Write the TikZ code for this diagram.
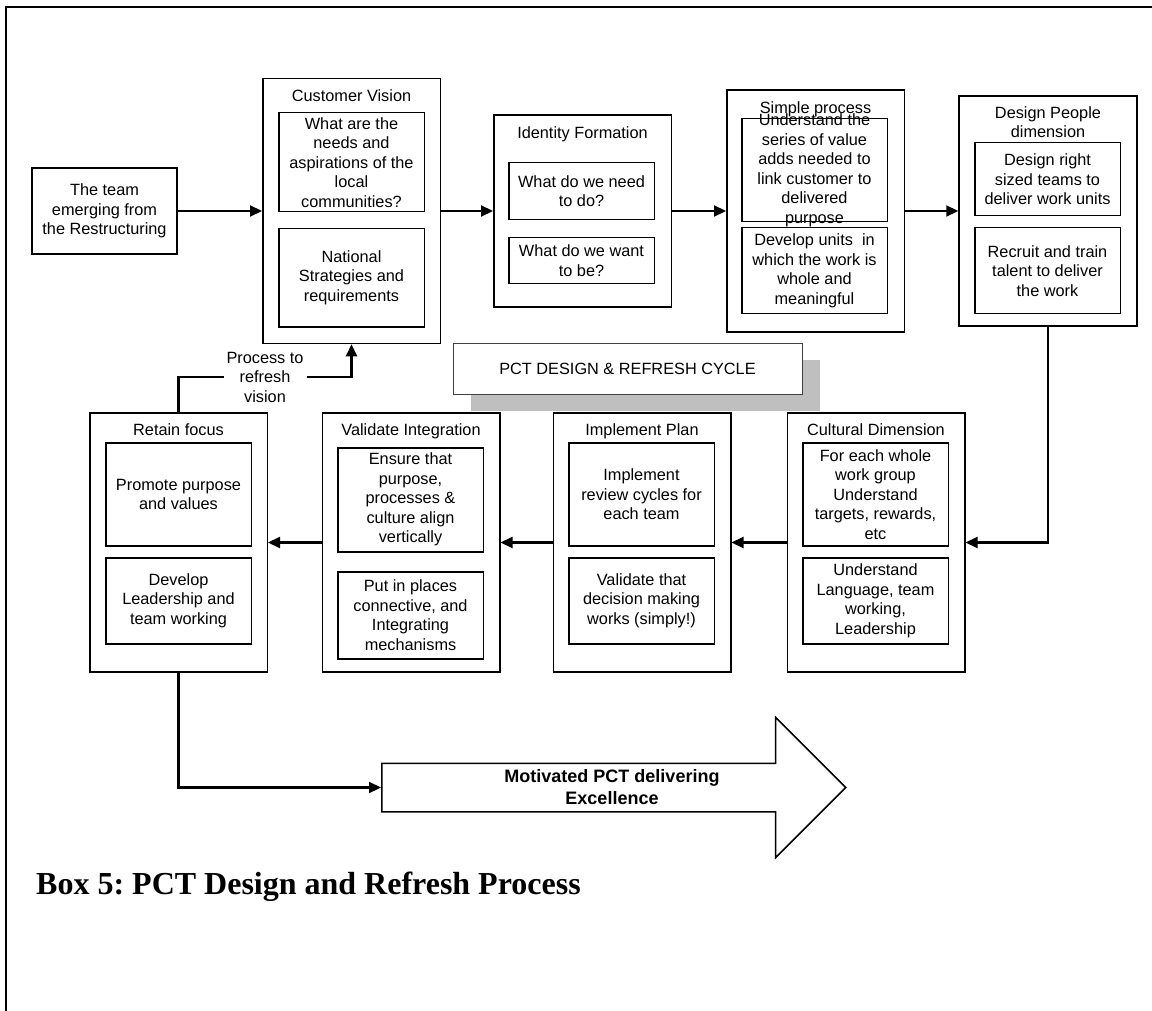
\documentclass[tikz,border=0pt]{standalone}
\usepackage{fontspec}
\setmainfont{Liberation Sans}
\newfontfamily\capfont{Liberation Serif}
\usetikzlibrary{arrows.meta,positioning,shapes.arrows,shadows}

\begin{document}
\begin{tikzpicture}[
		x=1pt, y=-1pt,
		font=\fontsize{16.3}{19.5}\selectfont,
		arrow/.style={-{Triangle[length=12pt,width=11pt]}, line width=2.2pt},
		stage/.style={draw, line width=1.5pt, minimum width=177.5pt, inner sep=0pt},
		part/.style={draw, line width=1.5pt, minimum width=145.5pt, inner sep=0pt, align=center, anchor=north west},
		heading/.style={anchor=north, inner sep=0pt, align=center},
	]
		\useasboundingbox (0,0) rectangle (1152,1011);
		\draw[line width=1.5pt] (6,1011) -- (6,7) -- (1152,7);

		% top row
		\node (team) [draw, line width=1.5pt, minimum width=145pt, minimum height=86pt, align=center] at (104.5,211) {The team\\emerging from\\the Restructuring};

		\node (cv) [stage, minimum height=265pt] at (351.5,211) {};
		\node (cvt) [heading] at ([yshift=-11.5pt]cv.north) {Customer Vision};
		\node (cv1) [part, minimum height=99pt] at (278,112) {What are the\\needs and\\aspirations of the\\local\\communities?};
		\node (cv2) [part, minimum height=98pt] at (278,228) {National\\Strategies and\\requirements};

		\node (if) [stage, minimum height=192pt] at (582.5,211) {};
		\node (ift) [heading] at ([yshift=-12pt]if.north) {Identity Formation};
		\node (if1) [part, minimum height=57pt] at (508,162) {What do we need\\to do?};
		\node (if2) [part, minimum height=46pt] at (508,237) {What do we want\\to be?};

		\node (sp) [stage, minimum height=242pt] at (815.5,211) {};
		\node (sp1) [part, minimum height=103pt] at (741,118) {};
		\node (sp1t) [align=center, inner sep=0pt] at (sp1) {Understand the\\series of value\\adds needed to\\link customer to\\delivered\\purpose};
		\node (sp2) [part, minimum height=86pt] at (741,227) {Develop units\ \ in\\which the work is\\whole and\\meaningful};
		\node (spt) [heading] at ([yshift=-12pt]sp.north) {Simple process};

		\node (dp) [stage, minimum width=178pt, minimum height=230pt] at (1048,211) {};
		\node (dpt) [heading] at ([yshift=-11pt]dp.north) {Design People\\dimension};
		\node (dp1) [part, minimum height=73pt] at (974,142) {Design right\\sized teams to\\deliver work units};
		\node (dp2) [part, minimum height=86pt] at (974,227) {Recruit and train\\talent to deliver\\the work};

		% bottom row
		\node (cd) [stage, minimum height=259pt] at (876,542.5) {};
		\node (cdt) [heading] at ([yshift=-11.5pt]cd.north) {Cultural Dimension};
		\node (cd1) [part, minimum height=103pt] at (802,442) {For each whole\\work group\\Understand\\targets, rewards,\\etc};
		\node (cd2) [part, minimum height=86pt] at (802,557) {Understand\\Language, team\\working,\\Leadership};

		\node (ip) [stage, minimum height=259pt] at (642,542.5) {};
		\node (ipt) [heading] at ([yshift=-11.5pt]ip.north) {Implement Plan};
		\node (ip1) [part, minimum height=103pt] at (568,442) {Implement\\review cycles for\\each team};
		\node (ip2) [part, minimum height=86pt] at (568,557) {Validate that\\decision making\\works (simply!)};

		\node (vi) [stage, minimum height=259pt] at (411,542.5) {};
		\node (vit) [heading] at ([yshift=-11.5pt]vi.north) {Validate Integration};
		\node (vi1) [part, minimum height=104pt] at (337,447) {Ensure that\\purpose,\\processes \&\\culture align\\vertically};
		\node (vi2) [part, minimum height=87pt] at (337,571) {Put in places\\connective, and\\Integrating\\mechanisms};

		\node (rf) [stage, minimum height=259pt] at (178.5,542.5) {};
		\node (rft) [heading] at ([yshift=-11.5pt]rf.north) {Retain focus};
		\node (rf1) [part, minimum height=103pt] at (105,442) {Promote purpose\\and values};
		\node (rf2) [part, minimum height=86pt] at (105,557) {Develop\\Leadership and\\team working};

		\node (cycle) [draw=black!75, line width=0.8pt, fill=white, minimum width=349pt, minimum height=51pt,
			drop shadow={shadow xshift=18pt, shadow yshift=-17pt, fill=black!25, opacity=1}] at (627.5,368.5) {PCT DESIGN \& REFRESH CYCLE};

		% outcome arrow
		\node (goal) [single arrow, draw, line width=1.5pt, single arrow head extend=46pt, inner ysep=23.5pt, inner xsep=0pt,
			minimum height=464pt, anchor=tail] at (381,787.5) {};
		\node (goalt) [align=center, inner sep=0pt, font=\bfseries\fontsize{18}{22}\selectfont] at ([xshift=231pt]goal.tail) {Motivated PCT delivering\\Excellence};

		\draw[arrow] (team) -- (cv);
		\draw[arrow] (cv) -- (if);
		\draw[arrow] (if) -- (sp);
		\draw[arrow] (sp) -- (dp);
		\draw[arrow] (dp.south) |- (cd.east);
		\draw[arrow] (cd) -- (ip);
		\draw[arrow] (ip) -- (vi);
		\draw[arrow] (vi) -- (rf);
		\draw[arrow] (rf.north) -- ++(0,-35) -| node (refresh) [pos=0.25, fill=white, inner sep=3pt, align=center] {Process to\\refresh\\vision} (cv.south);
		\draw[arrow] (rf.south) |- (goal.tail);

		\node (caption) [anchor=base west, inner sep=0pt, font=\capfont\bfseries\fontsize{32}{38}\selectfont] at (36,894) {\frenchspacing Box 5: PCT Design and Refresh Process};
	\end{tikzpicture}
\end{document}
